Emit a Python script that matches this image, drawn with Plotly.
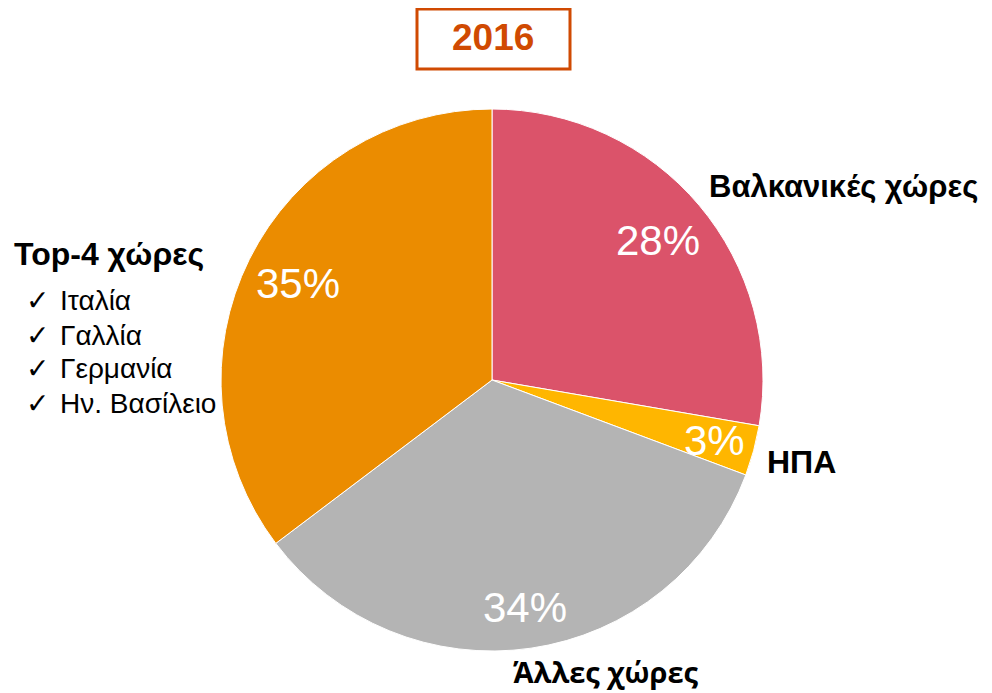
import math
import plotly.graph_objects as go

categories = ["Βαλκανικές χώρες", "ΗΠΑ", "Άλλες χώρες", "Top-4 χώρες"]
values = [27.7, 3.0, 34.0, 35.3]
pct_labels = ["28%", "3%", "34%", "35%"]
colors = ["#DB536A", "#FFB600", "#B4B4B4", "#EB8C00"]
top4_list = ["Ιταλία", "Γαλλία", "Γερμανία", "Ην. Βασίλειο"]
title_text = "2016"

# page body margin offset (8px) compensation
OX, OY = 8, 8
W, H = 984, 685


def px(x):
    return (x - OX) / W


def py(y):
    return 1 - (y - OY) / H


cx, cy, R = 492, 380, 271

fig = go.Figure()
fig.add_trace(go.Pie(
    labels=categories, values=values, sort=False, direction="clockwise", rotation=0,
    marker=dict(colors=colors, line=dict(color="white", width=1)),
    textinfo="none", hoverinfo="label+percent", showlegend=False,
    domain=dict(x=[px(cx - R), px(cx + R)], y=[py(cy + R), py(cy - R)]),
))

anns = []
radial = [0.80, 0.85, 0.85, 0.80]
total = sum(values)
cum = 0
for v, t, rf in zip(values, pct_labels, radial):
    mid = (cum + v / 2) / total * 2 * math.pi
    cum += v
    x = cx + rf * R * math.sin(mid)
    y = cy - rf * R * math.cos(mid)
    anns.append(dict(x=px(x), y=py(y), text=t,
                     font=dict(family="Liberation Sans, Arial", size=42, color="white"),
                     xanchor="center", yanchor="middle"))

bold = dict(family="Liberation Sans, Arial", size=31, color="black")
anns.append(dict(x=px(707), y=py(187), text="<b>" + categories[0] + "</b>", font=bold,
                 xanchor="left", yanchor="middle"))
anns.append(dict(x=px(765), y=py(462), text="<b>" + categories[1] + "</b>",
                 font=dict(family="Liberation Sans, Arial", size=32, color="black"),
                 xanchor="left", yanchor="middle"))
anns.append(dict(x=px(511), y=py(671), text="<b>" + categories[2] + "</b>",
                 font=dict(family="Open Sans", size=29, color="black"),
                 xanchor="left", yanchor="middle"))
anns.append(dict(x=px(12), y=py(254), text="<b>" + categories[3] + "</b>",
                 font=dict(family="Liberation Sans, Arial", size=32, color="black"),
                 xanchor="left", yanchor="middle"))
for i, item in enumerate(top4_list):
    yy = 301 + i * 34
    anns.append(dict(x=px(24), y=py(yy), text="✓",
                     font=dict(family="DejaVu Sans", size=28, color="black"),
                     xanchor="left", yanchor="middle"))
    anns.append(dict(x=px(58), y=py(yy), text=item,
                     font=dict(family="Liberation Sans, Arial", size=28, color="black"),
                     xanchor="left", yanchor="middle"))
anns.append(dict(x=px(493), y=py(38), text="<b>" + title_text + "</b>",
                 font=dict(family="Liberation Sans, Arial", size=37, color="#D04A02"),
                 xanchor="center", yanchor="middle"))
for a in anns:
    a["xref"] = "paper"
    a["yref"] = "paper"
    a["showarrow"] = False

fig.update_layout(
    width=W, height=H, margin=dict(l=0, r=0, t=0, b=0),
    paper_bgcolor="white", plot_bgcolor="white",
    annotations=anns,
    shapes=[dict(type="rect", xref="paper", yref="paper", x0=px(417), x1=px(570),
                 y0=py(69), y1=py(9), line=dict(color="#D04A02", width=3),
                 fillcolor="rgba(0,0,0,0)")],
)
fig.write_html("out.html")
